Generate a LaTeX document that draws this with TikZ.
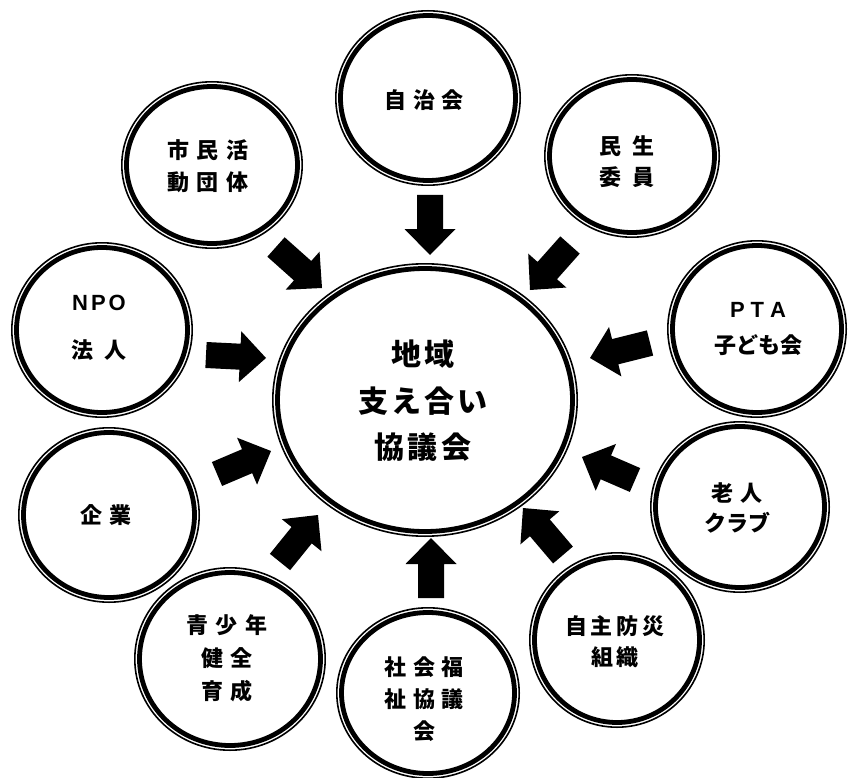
\documentclass[tikz,border=0pt]{standalone}
\usepackage{fontspec}
\usetikzlibrary{calc,shapes.geometric}
\newfontfamily\jp{Noto Sans CJK JP}
\newfontfamily\lat{Liberation Sans}
\newlength\lsp
\def\spcloop#1{\ifx\relax#1\else#1\kern\lsp\expandafter\spcloop\fi}
\newcommand\spc[2]{\setlength\lsp{#1pt}\spcloop#2\relax\kern-\lsp}
\newcommand\ringat[5]{%
  \node[ellipse, draw=none, minimum width={2*#4*1pt}, minimum height={2*#5*1pt}, inner sep=0pt] (#1) at (#2,#3) {};
  \draw[thinring] (#1.center) ellipse [x radius={(#4-0.8)*1pt}, y radius={(#5-0.8)*1pt}];
  \draw[thickring] (#1.center) ellipse [x radius={(#4-5.5)*1pt}, y radius={(#5-5.5)*1pt}];}
\newcommand\blockarrow[2]{%
  \coordinate (ba-b) at ($(#2)!26pt!(#1)$);
  \fill[black] ($(#1)!13pt!90:(#2)$) -- ($(ba-b)!13pt!90:(#2)$) -- ($(ba-b)!25.5pt!90:(#2)$) -- (#2)
     -- ($(ba-b)!25.5pt!-90:(#2)$) -- ($(ba-b)!13pt!-90:(#2)$) -- ($(#1)!13pt!-90:(#2)$) -- cycle;}
\tikzset{
  thinring/.style={draw=black, line width=1.6pt},
  thickring/.style={draw=black, line width=4.8pt},
  lbl/.style={align=center, inner sep=0pt, text=black}
}
\begin{document}
\begin{tikzpicture}[x=1pt,y=-1pt]
\fill[white] (0,0) rectangle (848,778);
\useasboundingbox (0,0) rectangle (848,778);
% circles
\ringat{hub}{425}{400}{153}{137}
\ringat{jichi}{428}{98}{93}{88}
\ringat{shimin}{212}{165}{91}{84}
\ringat{minsei}{632}{156}{88}{82}
\ringat{pta}{757}{329}{90}{89}
\ringat{npo}{102}{330}{91}{88}
\ringat{kigyo}{109}{515}{91}{88}
\ringat{seisho}{230}{659}{96}{92}
\ringat{shakai}{428}{693}{92}{86}
\ringat{jishu}{617}{640}{88}{88}
\ringat{rojin}{740}{507}{90}{86}
% texts
\node[lbl, font={\jp\bfseries\fontsize{30}{46.5}\selectfont}] (hub-t) at (423,401) {\spc{4}{地域}\\\spc{3}{支え合い}\\\spc{4}{協議会}};
\node[lbl, font={\jp\bfseries\fontsize{22}{32}\selectfont}] (jichi-t) at (424,100) {\spc{7}{自治会}};
\node[lbl, font={\jp\bfseries\fontsize{22}{32}\selectfont}] (shimin-t) at (208,166) {\spc{8}{市民活}\\\spc{8}{動団体}};
\node[lbl, font={\jp\bfseries\fontsize{22}{31}\selectfont}] (minsei-t) at (627,162) {\spc{11}{民生}\\\spc{11}{委員}};
\node[lbl, font={\jp\bfseries\fontsize{22}{36}\selectfont}] (pta-t) at (758,329) {{\lat\fontsize{22}{36}\selectfont\spc{6}{PTA}}\\\spc{0}{子ども会}};
\node[lbl, font={\jp\bfseries\fontsize{22}{48}\selectfont}] (npo-t) at (99,328) {{\lat\fontsize{22}{48}\selectfont\spc{3}{NPO}}\\\spc{11}{法人}};
\node[lbl, font={\jp\bfseries\fontsize{22}{32}\selectfont}] (kigyo-t) at (106,515) {\spc{8}{企業}};
\node[lbl, font={\jp\bfseries\fontsize{22}{33}\selectfont}] (seisho-t) at (227,658) {\spc{8}{青少年}\\\spc{8}{健全}\\\spc{8}{育成}};
\node[lbl, font={\jp\bfseries\fontsize{22}{32}\selectfont}] (shakai-t) at (424,699) {\spc{7}{社会福}\\\spc{7}{祉協議}\\\spc{7}{会}};
\node[lbl, font={\jp\bfseries\fontsize{22}{31}\selectfont}] (jishu-t) at (615,642) {\spc{4}{自主防災}\\\spc{3}{組織}};
\node[lbl, font={\jp\bfseries\fontsize{22}{30}\selectfont}] (rojin-t) at (737,508) {\spc{8}{老人}\\\spc{0}{クラブ}};
% arrow coordinates
\coordinate (t1) at (430,195);  \coordinate (h1) at (430,255);
\coordinate (t2) at (276,247);  \coordinate (h2) at (322,288);
\coordinate (t3) at (570,245);  \coordinate (h3) at (530,290);
\coordinate (t4) at (650,343);  \coordinate (h4) at (590,358);
\coordinate (t5) at (206,355);  \coordinate (h5) at (266,358);
\coordinate (t6) at (217,474);  \coordinate (h6) at (271,451);
\coordinate (t7) at (280,562);  \coordinate (h7) at (318,515);
\coordinate (t8) at (431,598);  \coordinate (h8) at (431,538);
\coordinate (t9) at (563,555);  \coordinate (h9) at (523,508);
\coordinate (t10) at (635,480); \coordinate (h10) at (582,457);
\blockarrow{t1}{h1}
\blockarrow{t2}{h2}
\blockarrow{t3}{h3}
\blockarrow{t4}{h4}
\blockarrow{t5}{h5}
\blockarrow{t6}{h6}
\blockarrow{t7}{h7}
\blockarrow{t8}{h8}
\blockarrow{t9}{h9}
\blockarrow{t10}{h10}
\end{tikzpicture}
\end{document}
